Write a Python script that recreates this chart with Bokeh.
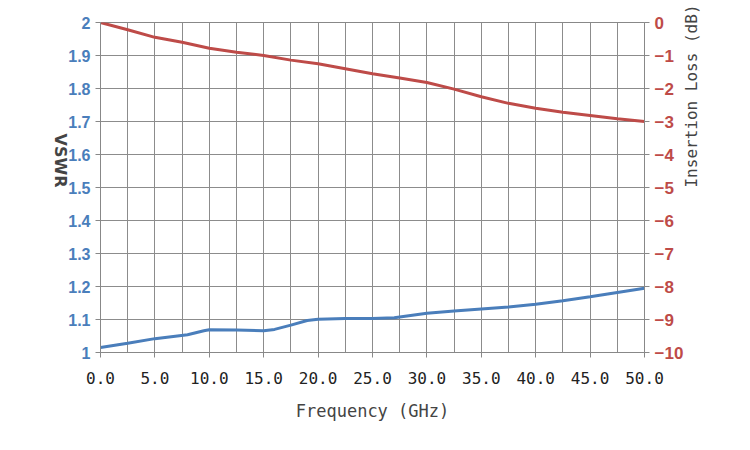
import math
from bokeh.plotting import figure
from bokeh.models import Range1d, LinearAxis, FixedTicker, CustomJSTickFormatter
from bokeh.embed import file_html
from bokeh.resources import INLINE

freq_vswr = [0, 2.5, 5, 8, 9.5, 10, 12.5, 15, 16, 17.5, 19, 20, 22.5, 25, 27, 30, 32.5, 35, 37.5, 40, 42.5, 45, 47.5, 50]
vswr = [1.015, 1.028, 1.042, 1.054, 1.066, 1.069, 1.068, 1.066, 1.070, 1.083, 1.097, 1.101, 1.103, 1.103, 1.105, 1.119, 1.126, 1.132, 1.138, 1.146, 1.157, 1.169, 1.182, 1.195]
freq_il = [0, 2.5, 5, 7.5, 10, 12.5, 15, 17.5, 20, 22.5, 25, 27.5, 30, 32.5, 35, 37.5, 40, 42.5, 45, 47.5, 50]
il = [0, -0.22, -0.45, -0.6, -0.78, -0.9, -1.0, -1.14, -1.25, -1.4, -1.55, -1.68, -1.82, -2.02, -2.25, -2.45, -2.6, -2.72, -2.82, -2.92, -3.0]

blue = "#4a7ebb"
red = "#be4b48"

p = figure(width=734, height=434, output_backend="svg", toolbar_location=None,
           x_range=Range1d(0, 50), y_range=Range1d(1, 2),
           min_border_left=100, min_border_right=90, min_border_top=22, min_border_bottom=82)
p.outline_line_color = "#888888"
p.extra_y_ranges = {"il": Range1d(-10, 0)}

p.xaxis.ticker = FixedTicker(ticks=[i * 5 for i in range(11)], minor_ticks=[i * 2.5 for i in range(21)])
p.xaxis.formatter = CustomJSTickFormatter(code="return tick.toFixed(1);")
p.xgrid.ticker = FixedTicker(ticks=[i * 2.5 for i in range(21)])
p.yaxis.ticker = FixedTicker(ticks=[1 + i / 10 for i in range(11)])
p.yaxis.formatter = CustomJSTickFormatter(code="return (Math.round(tick*10)/10).toString();")
p.grid.grid_line_color = "#8c8c8c"

p.xaxis.axis_label = "Frequency (GHz)"
p.xaxis.axis_label_text_font = "DejaVu Sans Mono"
p.xaxis.axis_label_text_font_style = "normal"
p.xaxis.axis_label_text_font_size = "17px"
p.xaxis.axis_label_standoff = 14
p.xaxis.major_label_text_font = "DejaVu Sans Mono"
p.xaxis.major_label_text_font_size = "16px"
p.xaxis.major_label_text_color = "#222222"
p.xaxis.major_label_standoff = 14
p.yaxis.axis_label = "VSWR"
p.yaxis.axis_label_text_font = "DejaVu Sans"
p.yaxis.axis_label_text_font_style = "bold"
p.yaxis.axis_label_text_font_size = "16px"
p.yaxis.axis_label_orientation = -math.pi / 2
p.yaxis.major_label_text_color = blue
p.yaxis.major_label_text_font_style = "bold"
p.yaxis.major_label_text_font_size = "16px"
for ax in [p.xaxis[0], p.yaxis[0]]:
    ax.axis_line_color = "#888888"
    ax.major_tick_line_color = "#888888"
    ax.minor_tick_line_color = None
    ax.major_tick_in = 0
    ax.major_tick_out = 5

ra = LinearAxis(y_range_name="il", ticker=FixedTicker(ticks=list(range(-10, 1))),
                axis_label="Insertion Loss (dB)")
ra.axis_label_text_font = "DejaVu Sans Mono"
ra.axis_label_text_font_style = "normal"
ra.axis_label_text_font_size = "16px"
ra.axis_label_orientation = math.pi / 2
ra.major_label_text_color = red
ra.major_label_text_font_style = "bold"
ra.major_label_text_font_size = "17px"
ra.axis_line_color = "#888888"
ra.major_tick_line_color = "#888888"
ra.minor_tick_line_color = None
ra.major_tick_in = 0
ra.major_tick_out = 5
p.add_layout(ra, "right")

p.line(freq_vswr, vswr, color=blue, line_width=3)
p.line(freq_il, il, color=red, line_width=3, y_range_name="il")

open("out.html", "w").write(file_html(p, INLINE))
